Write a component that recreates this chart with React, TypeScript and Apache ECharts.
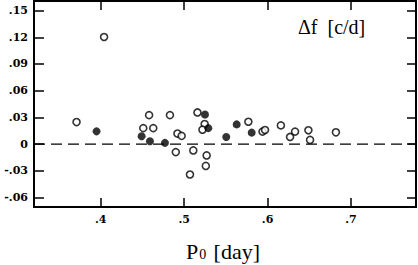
import React, { useEffect, useRef } from "react";
import * as echarts from "echarts";

const openPeriods = [0.371, 0.404, 0.458, 0.483, 0.516, 0.451, 0.463, 0.5246, 0.522, 0.492, 0.497, 0.49, 0.511, 0.527, 0.526, 0.507, 0.577, 0.594, 0.597, 0.616, 0.633, 0.627, 0.649, 0.651, 0.682];
const openDf = [0.0248, 0.1203, 0.0326, 0.0326, 0.0356, 0.018, 0.018, 0.0226, 0.0163, 0.0119, 0.0093, -0.0089, -0.007, -0.0126, -0.0244, -0.034, 0.0252, 0.0141, 0.0159, 0.0211, 0.0141, 0.0081, 0.0156, 0.0048, 0.0133];
const filledPeriods = [0.395, 0.525, 0.529, 0.449, 0.459, 0.477, 0.563, 0.581, 0.5505];
const filledDf = [0.0144, 0.0333, 0.018, 0.0089, 0.0033, 0.0015, 0.0222, 0.013, 0.0081];

const xTicks = [0.4, 0.5, 0.6, 0.7];
const yTicks = [-0.06, -0.03, 0, 0.03, 0.06, 0.09, 0.12, 0.15];
const xRange = [0.32, 0.778];
const zeroLine = [0, 0];

const fmt = (v: number) => {
  if (Math.abs(v) < 1e-9) return "0";
  const s = Math.abs(v).toFixed(2).replace(/^0/, "");
  return (v < 0 ? "-" : "") + s;
};
const fmtX = (v: number) => Math.abs(v).toFixed(1).replace(/^0/, "");

export default function App() {
  const ref = useRef<HTMLDivElement>(null);
  useEffect(() => {
    if (!ref.current) return;
    const chart = echarts.init(ref.current, undefined, { renderer: "svg" });
    const lineStyle = { color: "#000", width: 2 };
    const labelFont = { fontFamily: "DejaVu Serif", fontWeight: "bold" as const, fontSize: 11, color: "#000" };
    const tickStyle = { color: "#000", width: 1.5 };
    chart.setOption({
      animation: false,
      backgroundColor: "#fff",
      grid: { left: 34, right: 2, top: 1, bottom: 58, containLabel: false },
      xAxis: [
        {
          type: "value",
          min: xRange[0],
          max: xRange[1],
          position: "bottom",
          axisLine: { show: true, onZero: false, lineStyle },
          axisTick: { show: true, inside: true, length: 9, customValues: xTicks, lineStyle: tickStyle },
          axisLabel: { ...labelFont, margin: 7, customValues: xTicks, formatter: fmtX },
          splitLine: { show: false },
        },
        {
          type: "value",
          min: xRange[0],
          max: xRange[1],
          position: "top",
          axisLine: { show: true, onZero: false, lineStyle },
          axisTick: { show: true, inside: true, length: 9, customValues: xTicks, lineStyle: tickStyle },
          axisLabel: { show: false },
          splitLine: { show: false },
        },
      ],
      yAxis: [
        {
          type: "value",
          min: -0.0705,
          max: 0.1607,
          position: "left",
          axisLine: { show: true, onZero: false, lineStyle },
          axisTick: { show: true, inside: true, length: 10, customValues: yTicks, lineStyle: tickStyle },
          axisLabel: { ...labelFont, margin: 6, customValues: yTicks, formatter: fmt },
          splitLine: { show: false },
        },
        {
          type: "value",
          min: -0.0705,
          max: 0.1607,
          position: "right",
          axisLine: { show: true, onZero: false, lineStyle },
          axisTick: { show: true, inside: true, length: 9, customValues: yTicks, lineStyle: tickStyle },
          axisLabel: { show: false },
          splitLine: { show: false },
        },
      ],
      graphic: [
        {
          type: "text",
          x: 298,
          y: 17,
          style: { text: "Δf  [c/d]", font: "20px 'Liberation Serif'", fill: "#000" },
        },
        {
          type: "text",
          x: 223,
          y: 251,
          style: {
            text: "{p|P}{s|0} {p|[day]}",
            align: "center",
            verticalAlign: "middle",
            rich: {
              p: { fontFamily: "Liberation Serif", fontSize: 22, fill: "#000" },
              s: { fontFamily: "Liberation Serif", fontSize: 14, fill: "#000", padding: [7, 4, 0, 1] },
            },
          },
        },
      ],
      series: [
        {
          type: "line",
          data: xRange.map((x, i) => [x, zeroLine[i]]),
          symbol: "none",
          silent: true,
          lineStyle: { color: "#000", width: 1.2, type: [11, 6] },
          z: 1,
        },
        {
          type: "scatter",
          symbol: "circle",
          symbolSize: 7,
          itemStyle: { color: "#fff", borderColor: "#000", borderWidth: 1.6 },
          data: openPeriods.map((p, i) => [p, openDf[i]]),
          z: 3,
        },
        {
          type: "scatter",
          symbol: "circle",
          symbolSize: 8,
          itemStyle: { color: "#000" },
          data: filledPeriods.map((p, i) => [p, filledDf[i]]),
          z: 4,
        },
      ],
    });
    return () => chart.dispose();
  }, []);
  return <div ref={ref} style={{ position: "fixed", left: 0, top: 0, width: 418, height: 265 }} />;
}
